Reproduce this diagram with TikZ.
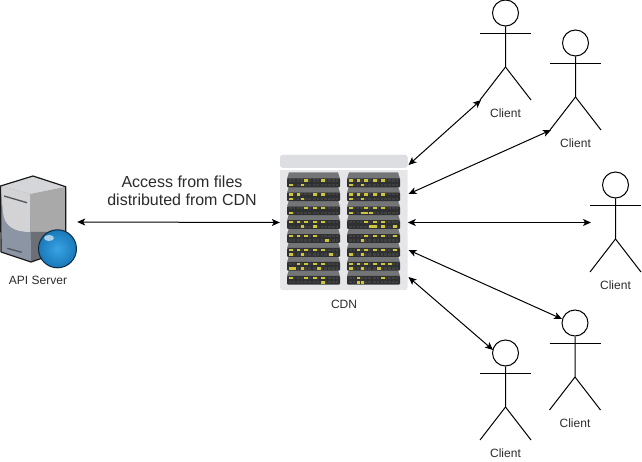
\documentclass[tikz,border=0pt]{standalone}
\usepackage{fontspec}
\setmainfont{Liberation Sans}
\usetikzlibrary{arrows.meta,calc}
\definecolor{txt}{HTML}{2B2B2B}
\definecolor{led}{HTML}{CFC53A}
\definecolor{rackdark}{HTML}{2E3032}
\definecolor{racktop}{HTML}{737577}
\definecolor{cdnbg}{HTML}{E6E6E8}
\definecolor{cdnband}{HTML}{DDDEE2}
\definecolor{srvtop}{HTML}{D5D6DA}
\definecolor{srvright}{HTML}{A9A9AA}
\definecolor{srvrightlow}{HTML}{6C7076}
\definecolor{srvleft}{HTML}{8C95A3}
\definecolor{srvleftlight}{HTML}{D3D3D6}
\definecolor{srvline}{HTML}{50555C}
\definecolor{ballout}{HTML}{1A78B8}
\definecolor{ballin}{HTML}{38A4E4}
\definecolor{balledge}{HTML}{0D2A40}
\definecolor{ballhi}{HTML}{A8D0E8}
\tikzset{
  lbl/.style={font=\fontsize{12}{14}\selectfont,text=txt,inner sep=0pt},
  biglbl/.style={font=\fontsize{16}{18}\selectfont,text=txt,inner sep=0pt,align=center},
  link/.style={draw=black,line width=1pt,{Stealth[length=8pt,width=7pt,inset=2pt]}-{Stealth[length=8pt,width=7pt,inset=2pt]},shorten <=0pt,shorten >=0pt},
  stick/.style={draw=black,line width=1pt},
  headc/.style={circle,draw=black,line width=1pt,minimum size=26pt,inner sep=0pt},
}
\newcommand{\actorfig}[3]{% name, x, head-top y
  \node[headc] (#1h) at (#2,#3+13) {};
  \draw[stick] (#1h.south) -- (#2,#3+67) -- (#2-25.5,#3+100);
  \draw[stick] (#2,#3+67) -- (#2+25.5,#3+100);
  \draw[stick] (#2-25.5,#3+33.5) -- (#2+25.5,#3+33.5);
  \node[lbl] (#1) at (#2,#3+113.5) {Client};
}
\newcommand{\rackunit}[4]{% x, y, top leds, bottom leds
  \fill[racktop] (#1+2,#2) -- (#1+51,#2) -- (#1+53,#2+6.5) -- (#1,#2+6.5) -- cycle;
  \fill[rackdark,rounded corners=1pt] (#1,#2+6.2) rectangle (#1+53,#2+15);
  \draw[draw=black!75!white,line width=2.2pt,dash pattern=on 2.6pt off 1.2pt] (#1+2,#2+8.2) -- (#1+24,#2+8.2) (#1+26,#2+8.2) -- (#1+51,#2+8.2);
  \draw[draw=black!75!white,line width=2.2pt,dash pattern=on 2.6pt off 1.2pt] (#1+2,#2+12.7) -- (#1+24,#2+12.7) (#1+26,#2+12.7) -- (#1+51,#2+12.7);
  \foreach \ledc in {#3} {\fill[led] (#1+\ledc-1.8,#2+7) rectangle (#1+\ledc+1.8,#2+9.4);}
  \foreach \ledc in {#4} {\fill[led] (#1+\ledc-1.8,#2+11.5) rectangle (#1+\ledc+1.8,#2+13.9);}
}
\begin{document}
\begin{tikzpicture}[x=1pt,y=-1pt]
\useasboundingbox (0,0) rectangle (642,462);
% CDN
\node[fill=cdnbg,rounded corners=2.5pt,minimum width=127.5pt,minimum height=135pt,inner sep=0pt] (cdn) at (343.8,222.5) {};
\fill[white] (280,166) rectangle (408,170);
\fill[cdnband,rounded corners=2.5pt] (280,155) rectangle (407.5,167.8);
\rackunit{287}{269.6}{3.7,19,28,35.7}{35.7}
\rackunit{347}{269.6}{11.3,35.7}{11.3,15.3}
\rackunit{287}{255.7}{11.3,19,28,35.7}{3.7,7.3,15.3,32}
\rackunit{347}{255.7}{3.7,11.3,19,28,35.7,43}{3.7,15.3,32}
\rackunit{287}{241.8}{3.7,11.3,19,28,35.7}{3.7,15.3,44}
\rackunit{347}{241.8}{11.3,19,28,35.7,48}{3.7,15.3}
\rackunit{287}{227.9}{3.7,11.3,19,28}{39.7}
\rackunit{347}{227.9}{19,28,35.7,48}{15.3}
\rackunit{287}{214}{3.7,11.3,19,28,35.7}{15.3,28}
\rackunit{347}{214}{19,28,35.7}{24,28,35.7,48}
\rackunit{287}{200.1}{19,28,35.7}{3.7}
\rackunit{347}{200.1}{3.7,19,28,35.7}{3.7,15.3,19,24}
\rackunit{287}{186.2}{3.7,11.3,28,35.7}{3.7,15.3}
\rackunit{347}{186.2}{3.7,11.3,19,28,35.7}{3.7,15.3}
\rackunit{287}{172.3}{19,35.7}{3.7,15.3}
\rackunit{347}{172.3}{3.7,11.3,19,28,35.7}{3.7,15.3}
\node[lbl] (cdnl) at (344,304) {CDN};
% API server
\node[minimum width=77pt,minimum height=90pt,inner sep=0pt] (api) at (38.5,222) {};
\fill[srvtop] (0,186) -- (33,176) -- (65.7,186.7) -- (30,194) -- cycle;
\fill[srvright] (30,194) -- (65.7,186.7) -- (65.7,232) -- (30,232) -- cycle;
\fill[srvrightlow] (30,232) -- (65.7,232) -- (65.7,250) -- (31,262) -- cycle;
\fill[srvleft] (0.5,186) -- (30,194) -- (31,262) -- (1,252) -- cycle;
\fill[srvleftlight] (0.5,186) -- (30,194) -- (30,232) .. controls (14,232) and (4,226) .. (3,212) -- cycle;
\draw[black!90,line width=1.2pt,line join=round] (0.5,186) -- (33,176) -- (65.7,186.7) -- (65.7,250) -- (31,262) -- (1,252) -- cycle;
\draw[srvline,line width=1.3pt] (4,196) -- (27,202.7) (7.3,248.3) -- (21.7,252.3);
\shade[inner color=ballin,outer color=ballout] (57.5,248.8) circle[radius=19];
\fill[ballhi] (49,238) ellipse[x radius=5,y radius=3];
\draw[balledge,line width=1pt] (57.5,248.8) circle[radius=19];
% labels
\node[lbl] (apil) at (38,280.5) {API Server};
\node[biglbl] (acc) at (182,191) {Access from files\\distributed from CDN};
% actors
\actorfig{c1}{505.5}{0}
\actorfig{c2}{575.5}{30}
\actorfig{c3}{615.5}{172}
\actorfig{c4}{575}{310}
\actorfig{c5}{505.5}{340}
% free ends
\coordinate (a1) at (481,100);
\coordinate (a2) at (551,130);
\coordinate (a3) at (591,222.5);
\coordinate (a4) at (562,319);
\coordinate (a5) at (493,350);
\coordinate (b1) at (408.5,165);
\coordinate (b2) at (408.5,194);
\coordinate (b4) at (408.5,250);
\coordinate (b5) at (408.5,277);
\draw[link] (api.east) -- (cdn.west);
\draw[link] (b1) -- (a1);
\draw[link] (b2) -- (a2);
\draw[link] (cdn.east) -- (a3);
\draw[link] (b4) -- (a4);
\draw[link] (b5) -- (a5);
\end{tikzpicture}
\end{document}
